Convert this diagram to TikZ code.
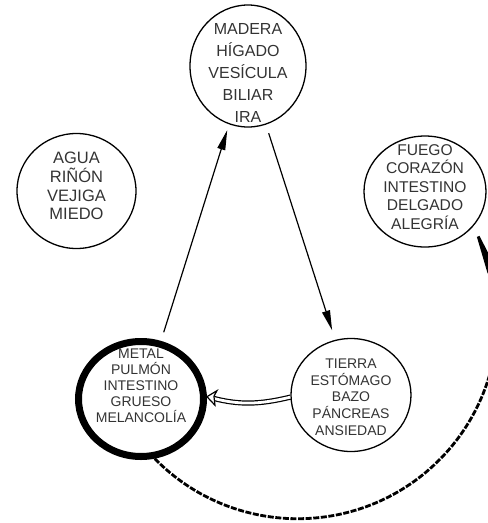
\documentclass[tikz,border=0pt]{standalone}
\usepackage{fontspec}
\setmainfont{Liberation Sans}
\usetikzlibrary{arrows.meta,bending,shapes.geometric}
\definecolor{txt}{HTML}{333333}
\begin{document}
\begin{tikzpicture}[x=1pt,y=-1pt,
  elem/.style={draw, ellipse, inner sep=0pt, line width=1.3pt},
  lbl/.style={align=center, text=txt, inner sep=0pt},
  arr/.style={line width=1.2pt, -{Triangle[length=20pt,width=8pt]}},
  dbl/.style={double, line width=1.2pt, double distance=2.8pt},
  dblhead/.style={line width=1.2pt, fill=white, line join=miter},
  dasharc/.style={line width=2.8pt, dash pattern=on 6pt off 1.6pt, -{Triangle[length=55pt,width=9pt,flex]}}]
\useasboundingbox (0,0) rectangle (488,523);
\clip (0,0) rectangle (488,523);
\node[elem, minimum width=116pt, minimum height=122pt] (madera) at (248,66) {};
\node[elem, minimum width=119pt, minimum height=115pt] (agua) at (76.5,191) {};
\node[elem, minimum width=122pt, minimum height=111pt] (fuego) at (425,191.5) {};
\node[elem, line width=7pt, minimum width=125pt, minimum height=115pt] (metal) at (141,399) {};
\node[elem, minimum width=120pt, minimum height=113pt] (tierra) at (351,395) {};
\node[lbl, font=\fontsize{16}{22}\selectfont] (maderat) at (248,73) {MADERA\\HÍGADO\\VESÍCULA\\BILIAR\\IRA};
\node[lbl, font=\fontsize{16.5}{18.7}\selectfont] (aguat) at (76.5,186) {AGUA\\RIÑÓN\\VEJIGA\\MIEDO};
\node[lbl, font=\fontsize{15.6}{18.5}\selectfont] (fuegot) at (425,187) {FUEGO\\CORAZÓN\\INTESTINO\\DELGADO\\ALEGRÍA};
\node[lbl, font=\fontsize{14}{16.1}\selectfont] (metalt) at (141,386) {METAL\\PULMÓN\\INTESTINO\\GRUESO\\MELANCOLÍA};
\node[lbl, font=\fontsize{14}{16.7}\selectfont] (tierrat) at (351,397) {TIERRA\\ESTÓMAGO\\BAZO\\PÁNCREAS\\ANSIEDAD};
\draw[arr, shorten <=9pt, shorten >=6pt] (metal.71.8) -- (madera.252.6);
\draw[arr, shorten <=9pt, shorten >=10pt] (madera.-73.4) -- (tierra.106.3);
\coordinate (dtip) at (metal.2);
\draw[dbl, shorten >=7pt] (tierra.182) to[bend left=14] (dtip);
\draw[dblhead] (dtip) -- ++(10,-6) -- ++(-3,5.5) -- ++(1,9) -- cycle;
\draw[dasharc] (metal.-77.5) arc[start angle=224.4, end angle=389.4, radius=200pt];
\end{tikzpicture}
\end{document}
